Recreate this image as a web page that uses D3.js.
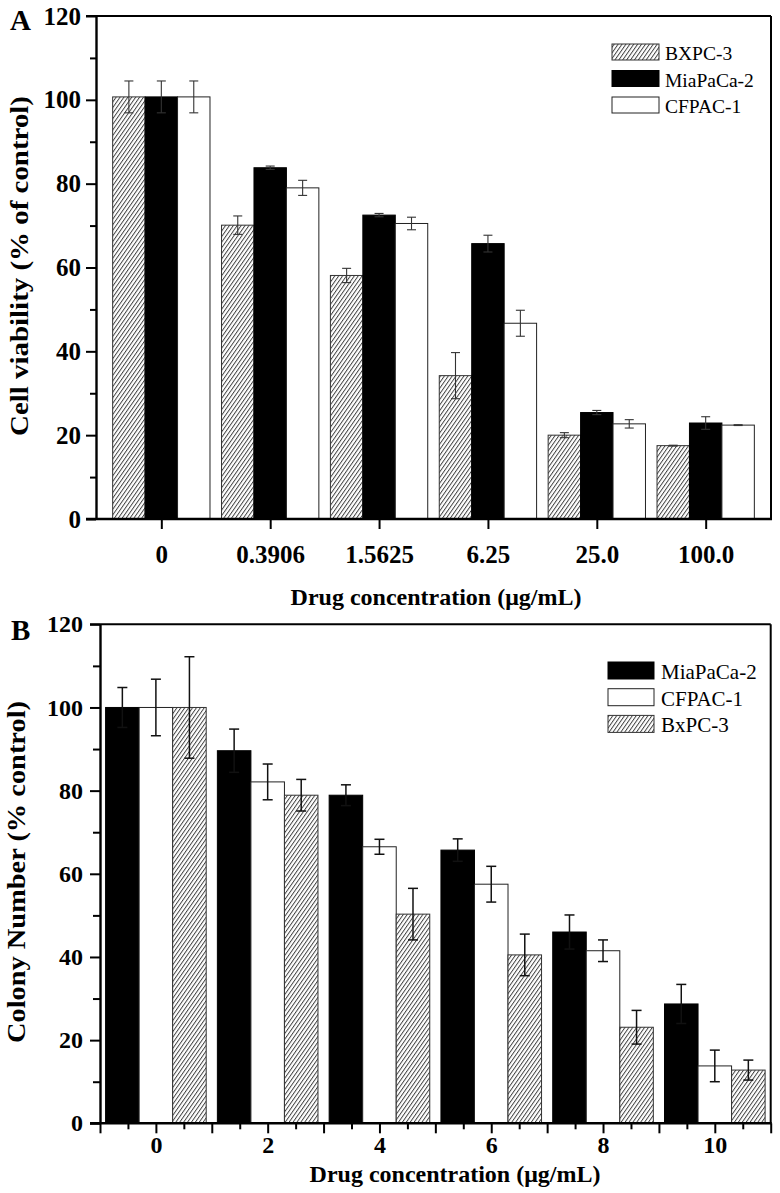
<!DOCTYPE html>
<html>
<head>
<meta charset="utf-8">
<script src="https://cdn.jsdelivr.net/npm/d3@7/dist/d3.min.js"></script>
<style>
  html, body { margin: 0; padding: 0; background: #fff; }
  svg { display: block; }
  text { font-family: "Liberation Serif", "Times New Roman", Times, serif; fill: #000; }
</style>
</head>
<body>
<svg id="chart" width="780" height="1193"></svg>
<script>
// ---------------- Panel A data ----------------
const catsA = ["0", "0.3906", "1.5625", "6.25", "25.0", "100.0"];
const bxpcA = [100.7, 70.1, 58.1, 34.2, 20.0, 17.5];
const bxpcAErr = [3.8, 2.2, 1.7, 5.5, 0.6, 0.1];
const miaA = [100.7, 83.8, 72.5, 65.7, 25.4, 22.9];
const miaAErr = [3.8, 0.4, 0.4, 2.0, 0.5, 1.5];
const cfpacA = [100.7, 79.0, 70.5, 46.7, 22.7, 22.4];
const cfpacAErr = [3.8, 1.8, 1.5, 3.1, 1.0, 0.1];
const yTicksA = [0, 20, 40, 60, 80, 100, 120];

// ---------------- Panel B data ----------------
const concB = [0, 2, 4, 6, 8, 10];
const miaB = [100, 89.6, 78.9, 65.7, 46.0, 28.7];
const miaBErr = [4.8, 5.2, 2.5, 2.7, 4.1, 4.7];
const cfpacB = [100, 82.1, 66.5, 57.5, 41.5, 13.8];
const cfpacBErr = [6.8, 4.3, 1.8, 4.3, 2.6, 3.8];
const bxpcB = [100, 78.9, 50.3, 40.5, 23.1, 12.8];
const bxpcBErr = [12.2, 3.8, 6.2, 5.0, 4.05, 2.4];
const yTicksB = [0, 20, 40, 60, 80, 100, 120];
const xTicksB = [0, 2, 4, 6, 8, 10];

const FONT = '"Liberation Serif", "Times New Roman", serif';
const svg = d3.select("#chart");
const defs = svg.append("defs");
const pat = defs.append("pattern")
  .attr("id", "hatch").attr("patternUnits", "userSpaceOnUse")
  .attr("width", 3.2).attr("height", 10)
  .attr("patternTransform", "rotate(35)");
pat.append("rect").attr("width", 3.2).attr("height", 10).attr("fill", "#fff");
pat.append("line").attr("x1", 0.5).attr("y1", 0).attr("x2", 0.5).attr("y2", 10)
  .attr("stroke", "#333").attr("stroke-width", 0.9);

const styles = {
  hatch: { fill: "url(#hatch)", stroke: "#333", sw: 1 },
  black: { fill: "#000", stroke: "#000", sw: 1 },
  white: { fill: "#fff", stroke: "#222", sw: 1 }
};

function drawBar(g, x0, x1, yScale, v, st) {
  g.append("rect")
    .attr("x", x0).attr("width", x1 - x0)
    .attr("y", yScale(v)).attr("height", yScale(0) - yScale(v))
    .attr("fill", st.fill).attr("stroke", st.stroke).attr("stroke-width", st.sw);
}
function drawErr(g, cx, yScale, v, e, capW, color, sw) {
  const yt = yScale(v + e), yb = yScale(v - e);
  g.append("line").attr("x1", cx).attr("x2", cx).attr("y1", yt).attr("y2", yb)
    .attr("stroke", color).attr("stroke-width", sw);
  [yt, yb].forEach(yy => g.append("line")
    .attr("x1", cx - capW / 2).attr("x2", cx + capW / 2).attr("y1", yy).attr("y2", yy)
    .attr("stroke", color).attr("stroke-width", sw));
}

// ================= PANEL A =================
(function () {
  const L = 96, R = 771, T = 16, B = 519;
  const x = d3.scalePoint().domain(catsA).range([L, R]).padding(0.6);
  const y = d3.scaleLinear().domain([0, 120]).range([B, T]);
  const g = svg.append("g");
  const step = x.step();
  const bw = step * 0.298;
  const series = [
    { v: bxpcA, e: bxpcAErr, st: styles.hatch },
    { v: miaA, e: miaAErr, st: styles.black },
    { v: cfpacA, e: cfpacAErr, st: styles.white }
  ];
  catsA.forEach((c, i) => {
    const cx = x(c);
    series.forEach((s, k) => {
      const x0 = cx - 1.5 * bw + k * bw;
      drawBar(g, x0, x0 + bw, y, s.v[i], s.st);
    });
  });
  catsA.forEach((c, i) => {
    const cx = x(c);
    series.forEach((s, k) => {
      const bc = cx - 1.5 * bw + k * bw + bw / 2;
      drawErr(g, bc, y, s.v[i], s.e[i], 9, "#333", 1.1);
    });
  });

  g.append("line").attr("x1", L).attr("x2", R).attr("y1", T).attr("y2", T).attr("stroke", "#000").attr("stroke-width", 2);
  g.append("line").attr("x1", R).attr("x2", R).attr("y1", T).attr("y2", B).attr("stroke", "#000").attr("stroke-width", 2);

  const ya = d3.axisLeft(y).tickValues(yTicksA).tickSize(10).tickSizeOuter(0).tickPadding(5);
  const yg = svg.append("g").attr("transform", `translate(${L},0)`).call(ya);
  yg.select(".domain").attr("stroke-width", 2.4);
  yg.selectAll(".tick line").attr("stroke-width", 2);
  yg.selectAll(".tick text").attr("font-size", 25).attr("font-weight", "bold").attr("font-family", FONT);
  const ym = d3.axisLeft(y).tickValues(d3.range(10, 120, 20)).tickSize(6).tickSizeOuter(0).tickFormat("");
  const ymg = svg.append("g").attr("transform", `translate(${L},0)`).call(ym);
  ymg.select(".domain").remove();
  ymg.selectAll(".tick line").attr("stroke-width", 2);

  const xa = d3.axisBottom(x).tickSize(10).tickSizeOuter(0).tickPadding(6);
  const xg = svg.append("g").attr("transform", `translate(0,${B})`).call(xa);
  xg.select(".domain").attr("d", `M${L - 10},0H${R + 1}`).attr("stroke-width", 2.4);
  xg.selectAll(".tick line").attr("stroke-width", 2);
  xg.selectAll(".tick text").attr("font-size", 25).attr("font-weight", "bold")
    .attr("font-family", FONT).attr("dy", "1.1em");
  g.append("line").attr("x1", L - 10).attr("x2", L).attr("y1", T).attr("y2", T).attr("stroke", "#000").attr("stroke-width", 2);

  svg.append("text").attr("x", 436).attr("y", 605).attr("text-anchor", "middle")
    .attr("font-size", 24).attr("font-weight", "bold").text("Drug concentration (μg/mL)");
  svg.append("text").attr("transform", "translate(28,266) rotate(-90)").attr("text-anchor", "middle")
    .attr("font-size", 26).attr("font-weight", "bold")
    .attr("textLength", 340).attr("lengthAdjust", "spacingAndGlyphs")
    .text("Cell viability (% of control)");
  svg.append("text").attr("x", 10).attr("y", 30).attr("font-size", 29).attr("font-weight", "bold").text("A");

  const leg = [["BXPC-3", styles.hatch], ["MiaPaCa-2", styles.black], ["CFPAC-1", styles.white]];
  leg.forEach((d, i) => {
    const yy = 44 + i * 26.5;
    svg.append("rect").attr("x", 612).attr("y", yy).attr("width", 47).attr("height", 16)
      .attr("fill", d[1].fill).attr("stroke", d[1].stroke).attr("stroke-width", 1);
    svg.append("text").attr("x", 665).attr("y", yy + 16).attr("font-size", 19.5).text(d[0]);
  });
})();

// ================= PANEL B =================
(function () {
  const L = 100, R = 770.7, T = 624.3, B = 1123.3;
  const x = d3.scaleLinear().domain([-1, 11]).range([L, R]);
  const y = d3.scaleLinear().domain([0, 120]).range([B, T]);
  const g = svg.append("g");
  const bwU = 0.6;
  const series = [
    { v: miaB, e: miaBErr, st: styles.black },
    { v: cfpacB, e: cfpacBErr, st: styles.white },
    { v: bxpcB, e: bxpcBErr, st: styles.hatch }
  ];
  concB.forEach((c, i) => {
    series.forEach((s, k) => {
      const u0 = c - 1.5 * bwU + k * bwU;
      drawBar(g, x(u0), x(u0 + bwU), y, s.v[i], s.st);
    });
  });
  concB.forEach((c, i) => {
    series.forEach((s, k) => {
      const uc = c - 1.5 * bwU + k * bwU + bwU / 2;
      drawErr(g, x(uc), y, s.v[i], s.e[i], 10, "#111", 1.5);
    });
  });

  g.append("line").attr("x1", L - 10).attr("x2", R).attr("y1", T).attr("y2", T).attr("stroke", "#000").attr("stroke-width", 2);
  g.append("line").attr("x1", R).attr("x2", R).attr("y1", T).attr("y2", B).attr("stroke", "#000").attr("stroke-width", 2);

  const ya = d3.axisLeft(y).tickValues(yTicksB).tickSize(10).tickSizeOuter(0).tickPadding(7);
  const yg = svg.append("g").attr("transform", `translate(${L},0)`).call(ya);
  yg.select(".domain").attr("stroke-width", 2.4);
  yg.selectAll(".tick line").attr("stroke-width", 2);
  yg.selectAll(".tick text").attr("font-size", 24).attr("font-weight", "bold").attr("font-family", FONT);
  const ym = d3.axisLeft(y).tickValues(d3.range(10, 120, 20)).tickSize(7).tickSizeOuter(0).tickFormat("");
  const ymg = svg.append("g").attr("transform", `translate(${L},0)`).call(ym);
  ymg.select(".domain").remove();
  ymg.selectAll(".tick line").attr("stroke-width", 2);

  const xl = d3.axisBottom(x).tickValues(d3.range(-1, 12, 1)).tickSize(10).tickSizeOuter(0)
    .tickFormat(d => xTicksB.includes(d) ? d : "").tickPadding(3);
  const xg = svg.append("g").attr("transform", `translate(0,${B})`).call(xl);
  xg.select(".domain").attr("d", `M${L - 10},0H${R + 1}`).attr("stroke-width", 2.4);
  xg.selectAll(".tick line").attr("stroke-width", 2);
  xg.selectAll(".tick text").attr("font-size", 24).attr("font-weight", "bold").attr("font-family", FONT);
  const xs = d3.axisBottom(x).tickValues(d3.range(-0.5, 11, 1)).tickSize(6).tickSizeOuter(0).tickFormat("");
  const xsg = svg.append("g").attr("transform", `translate(0,${B})`).call(xs);
  xsg.select(".domain").remove();
  xsg.selectAll(".tick line").attr("stroke-width", 2);

  svg.append("text").attr("x", 455).attr("y", 1182).attr("text-anchor", "middle")
    .attr("font-size", 24).attr("font-weight", "bold").text("Drug concentration (μg/mL)");
  svg.append("text").attr("transform", "translate(25,872) rotate(-90)").attr("text-anchor", "middle")
    .attr("font-size", 26).attr("font-weight", "bold")
    .attr("textLength", 342).attr("lengthAdjust", "spacingAndGlyphs")
    .text("Colony Number (% control)");
  svg.append("text").attr("x", 11).attr("y", 640).attr("font-size", 29).attr("font-weight", "bold").text("B");

  const leg = [["MiaPaCa-2", styles.black], ["CFPAC-1", styles.white], ["BxPC-3", styles.hatch]];
  leg.forEach((d, i) => {
    const yy = 662 + i * 26.7;
    svg.append("rect").attr("x", 608).attr("y", yy).attr("width", 46).attr("height", 17)
      .attr("fill", d[1].fill).attr("stroke", d[1].stroke).attr("stroke-width", 1);
    svg.append("text").attr("x", 661).attr("y", yy + 17).attr("font-size", 21).text(d[0]);
  });
})();
</script>
</body>
</html>
